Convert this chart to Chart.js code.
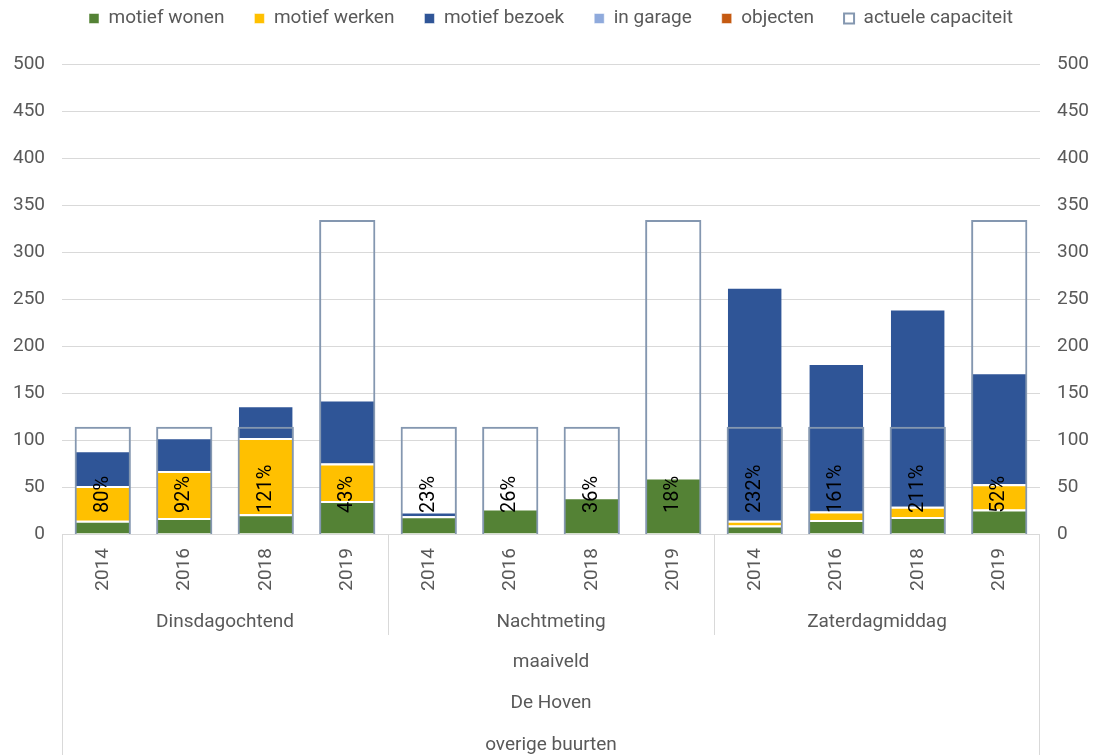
<!DOCTYPE html>
<html><head><meta charset="utf-8">
<script src="https://cdn.jsdelivr.net/npm/chart.js@4/dist/chart.umd.min.js"></script>
<style>html,body{margin:0;padding:0;background:#fff;}#wrap{width:1102px;height:755px;position:relative;}</style>
</head><body><div id="wrap"><canvas id="c"></canvas></div>
<script>
const years = ["2014","2016","2018","2019","2014","2016","2018","2019","2014","2016","2018","2019"];
const periods = ["Dinsdagochtend","Nachtmeting","Zaterdagmiddag"];
const outerLevels = ["maaiveld","De Hoven","overige buurten"];
const seriesNames = ["motief wonen","motief werken","motief bezoek","in garage","objecten","actuele capaciteit"];
const wonen     = [14,17,21,35, 19,27,39,60,  9,15,18,26];
const werken    = [37,50,81,40,  0, 0, 0, 0,  5, 9,11,27];
const bezoek    = [38,36,35,68,  5, 0, 0, 0, 249,158,211,119];
const garage    = [0,0,0,0, 0,0,0,0, 0,0,0,0];
const objecten  = [0,0,0,0, 0,0,0,0, 0,0,0,0];
const capaciteit= [114,114,114,334, 114,114,114,334, 114,114,114,334];
const pctLabels = ["80%","92%","121%","43%","23%","26%","36%","18%","232%","161%","211%","52%"];

const FONT = 'Roboto, "Open Sans", sans-serif';
const GRAY = '#595959';
const LINE = '#d9d9d9';

function seg(label, data, color){
  return {label, data, backgroundColor: color, borderColor:'#ffffff',
    borderWidth:{top:2,left:0,right:0,bottom:0}, borderSkipped:false,
    yAxisID:'y', order:1, barPercentage:0.66, categoryPercentage:1};
}

const decoPlugin = {
  id:'deco',
  beforeUpdate(chart){
    const lg = chart.legend;
    if (lg && !lg._patched){
      const f = lg.fit;
      lg.fit = function(){ f.call(this); this.height = 85; };
      lg._patched = true;
    }
  },
  afterDatasetsDraw(chart){
    const ctx = chart.ctx;
    const meta = chart.getDatasetMeta(5);
    ctx.save();
    ctx.fillStyle = '#000';
    ctx.font = '20px ' + FONT;
    meta.data.forEach((el,i)=>{
      ctx.save();
      ctx.translate(el.x, el.base - 21);
      ctx.rotate(-Math.PI/2);
      ctx.textAlign='left'; ctx.textBaseline='middle';
      ctx.fillText(pctLabels[i],0,0);
      ctx.restore();
    });
    ctx.restore();
  },
  afterDraw(chart){
    const ctx = chart.ctx, x = chart.scales.x, a = chart.chartArea;
    const H = chart.height;
    ctx.save();
    ctx.strokeStyle = LINE; ctx.lineWidth = 1;
    const px = v => x.getPixelForValue(v);
    const left = a.left, right = a.right;
    ctx.beginPath();
    ctx.moveTo(left+0.5, a.bottom); ctx.lineTo(left+0.5, H);
    ctx.moveTo(right-0.5, a.bottom); ctx.lineTo(right-0.5, H);
    for (let g=1; g<periods.length; g++){
      const xx = Math.round((px(g*4-1)+px(g*4))/2)+0.5;
      ctx.moveTo(xx, a.bottom); ctx.lineTo(xx, a.bottom+101);
    }
    ctx.stroke();
    ctx.fillStyle = GRAY; ctx.font = '19px ' + FONT;
    ctx.textAlign='center'; ctx.textBaseline='middle';
    periods.forEach((p,g)=>{
      const cx = (px(g*4)+px(g*4+3))/2;
      ctx.fillText(p, cx, a.bottom+88);
    });
    const cx = (left+right)/2;
    ctx.fillText(outerLevels[0], cx, a.bottom+128);
    ctx.fillText(outerLevels[1], cx, a.bottom+169);
    ctx.fillText(outerLevels[2], cx, a.bottom+211);
    ctx.restore();
  }
};

new Chart(document.getElementById('c'), {
  type:'bar',
  data:{
    labels: years,
    datasets:[
      seg(seriesNames[0], wonen, '#548235'),
      seg(seriesNames[1], werken, '#FFC000'),
      seg(seriesNames[2], bezoek, '#2F5597'),
      seg(seriesNames[3], garage, '#8FAADC'),
      seg(seriesNames[4], objecten, '#C55A11'),
      {label: seriesNames[5], data: capaciteit, backgroundColor:'rgba(255,255,255,0)',
       borderColor:'#8497B0', borderWidth:2, borderSkipped:'start',
       yAxisID:'y2', order:0, barPercentage:0.69, categoryPercentage:1}
    ]
  },
  options:{
    responsive:true, maintainAspectRatio:false, animation:false,
    layout:{padding:{top:-21,left:0,right:0,bottom:0}},
    plugins:{
      tooltip:{enabled:false},
      legend:{position:'top',
        labels:{color:GRAY, font:{family:FONT,size:19}, boxWidth:10, boxHeight:10, padding:30,
          sort:(a,b)=>a.datasetIndex-b.datasetIndex}}
    },
    scales:{
      x:{stacked:true, grid:{display:false, drawTicks:false}, border:{display:false},
        ticks:{color:GRAY, font:{family:FONT,size:19}, minRotation:90, maxRotation:90, padding:14, autoSkip:false},
        afterFit(s){ s.height = 221; }},
      y:{stacked:true, min:0, max:500, position:'left',
        ticks:{stepSize:50, color:GRAY, font:{family:FONT,size:19}, padding:17},
        grid:{color:LINE, drawTicks:false}, border:{display:false},
        afterFit(s){ s.width = 62; }},
      y2:{stacked:false, min:0, max:500, position:'right',
        ticks:{stepSize:50, color:GRAY, font:{family:FONT,size:19}, padding:17},
        grid:{display:false, drawTicks:false}, border:{display:false},
        afterFit(s){ s.width = 62; }}
    }
  },
  plugins:[decoPlugin]
});
</script>
</body></html>
